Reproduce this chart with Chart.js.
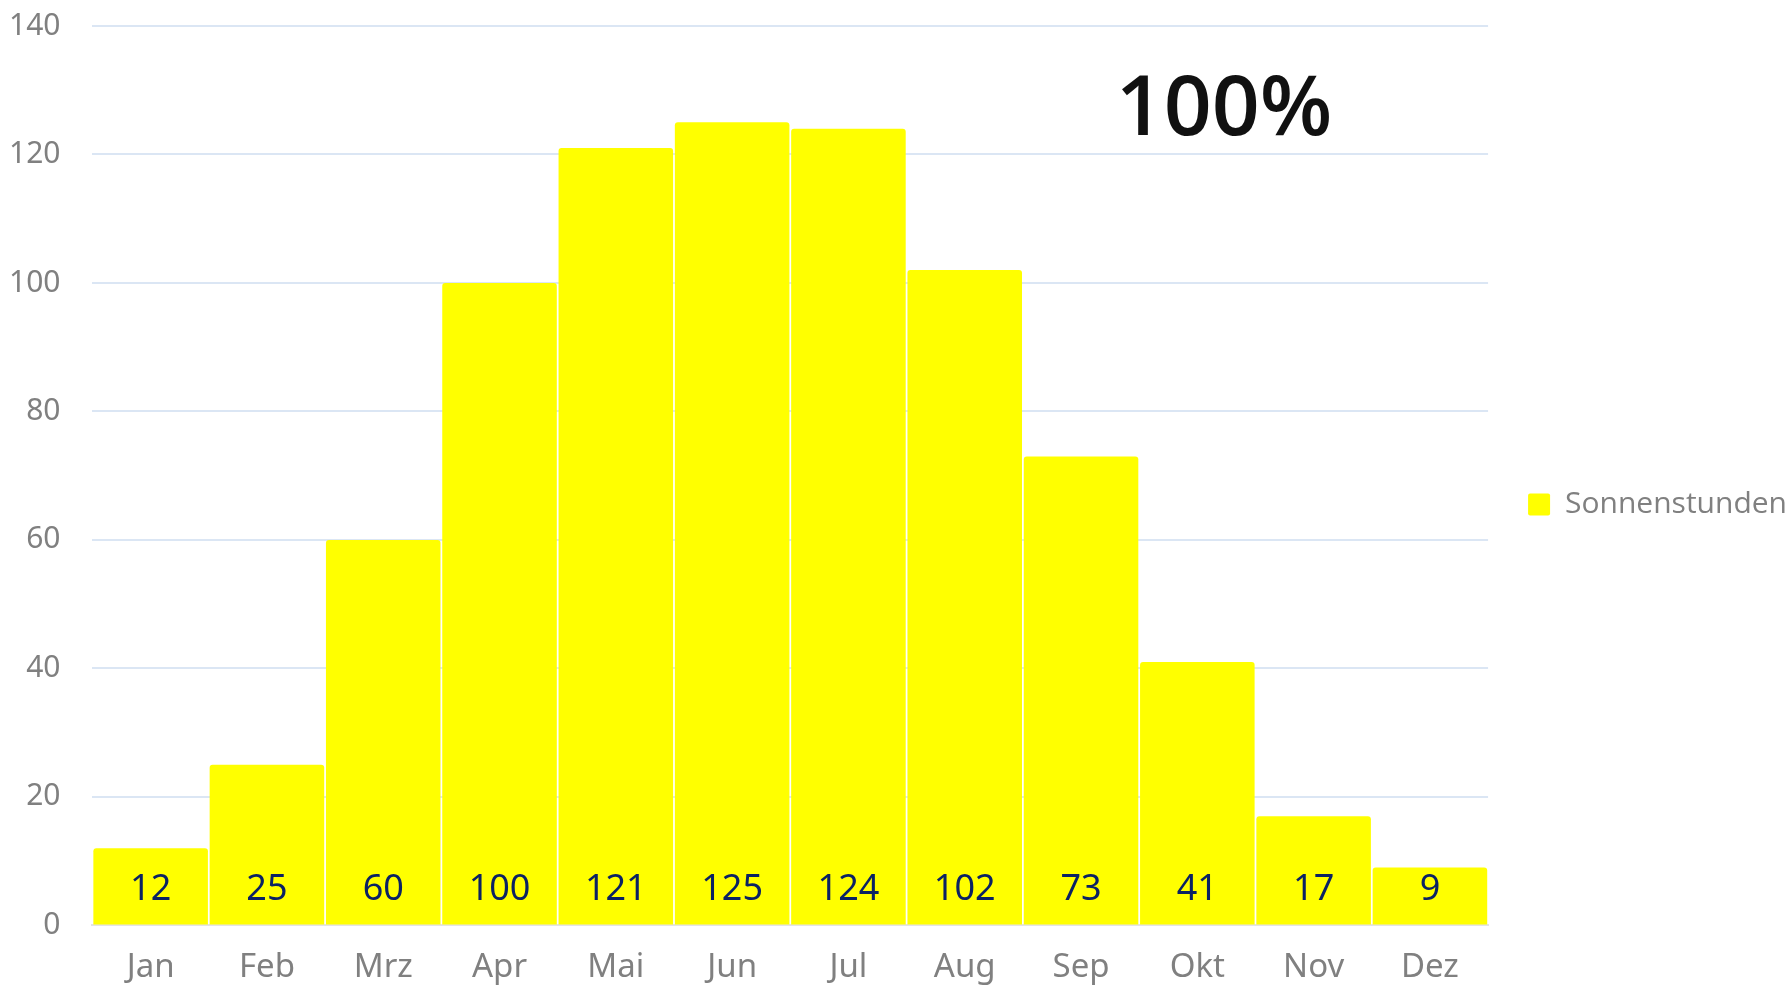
<!DOCTYPE html>
<html lang="de">
<head>
  <meta charset="UTF-8">
  <title>Sonnenstunden</title>
  <script src="https://cdn.jsdelivr.net/npm/chart.js"></script>
  <style>
    html, body { margin: 0; padding: 0; background: #ffffff; }
    #wrap { width: 1787px; height: 985px; }
  </style>
</head>
<body>
  <div id="wrap"><canvas id="sunChart"></canvas></div>
  <script>
    const months = ['Jan', 'Feb', 'Mrz', 'Apr', 'Mai', 'Jun', 'Jul', 'Aug', 'Sep', 'Okt', 'Nov', 'Dez'];
    const sunHours = [12, 25, 60, 100, 121, 125, 124, 102, 73, 41, 17, 9];
    const seriesName = 'Sonnenstunden';
    const yTicks = [0, 20, 40, 60, 80, 100, 120, 140];
    const headline = '100%';

    // Werte unten in den Balken
    const valueLabels = {
      id: 'valueLabels',
      afterDatasetsDraw(chart) {
        const ctx = chart.ctx;
        const meta = chart.getDatasetMeta(0);
        const base = chart.scales.y.getPixelForValue(0);
        ctx.save();
        ctx.font = '36px "Noto Sans"';
        ctx.fillStyle = '#0b2263';
        ctx.textAlign = 'center';
        ctx.textBaseline = 'middle';
        meta.data.forEach((bar, i) => {
          ctx.fillText(String(sunHours[i]), bar.x, base - 36);
        });
        ctx.restore();
      }
    };

    const headlineText = {
      id: 'headlineText',
      afterDraw(chart) {
        const ctx = chart.ctx;
        ctx.save();
        ctx.font = '600 84px "Open Sans"';
        ctx.fillStyle = '#111111';
        ctx.textAlign = 'center';
        ctx.textBaseline = 'alphabetic';
        ctx.fillText(headline, 1224, 135);
        ctx.restore();
      }
    };

    new Chart(document.getElementById('sunChart'), {
      type: 'bar',
      data: {
        labels: months,
        datasets: [{
          label: seriesName,
          data: sunHours,
          backgroundColor: '#ffff00',
          borderRadius: { topLeft: 3, topRight: 3 },
          borderSkipped: 'bottom',
          barPercentage: 0.985,
          categoryPercentage: 1.0
        }]
      },
      options: {
        responsive: true,
        maintainAspectRatio: false,
        animation: false,
        layout: { padding: { left: -23, top: 0, right: -10, bottom: -24 } },
        plugins: {
          tooltip: { enabled: false },
          legend: {
            position: 'right',
            labels: {
              boxWidth: 22,
              boxHeight: 22,
              padding: 40,
              useBorderRadius: true,
              borderRadius: 2,
              color: '#808080',
              font: { family: '"Open Sans"', size: 30 }
            }
          }
        },
        scales: {
          x: {
            z: 1,
            afterFit(scale) {
              scale.paddingLeft = 0;
              scale.paddingRight = 0;
            },
            grid: { display: false, drawTicks: false },
            border: { display: true, color: '#e4e4e4', width: 2 },
            ticks: {
              color: '#808080',
              padding: 22,
              font: { family: '"Noto Sans"', size: 33 }
            }
          },
          y: {
            min: 0,
            max: 140,
            afterBuildTicks(scale) {
              scale.ticks = yTicks.map(v => ({ value: v }));
            },
            afterFit(scale) {
              scale.paddingTop = 26;
              scale.paddingBottom = 0;
            },
            grid: { color: '#dbe6f4', lineWidth: 2, drawTicks: false },
            border: { display: false },
            ticks: {
              color: '#808080',
              padding: 32,
              font: { family: '"Noto Sans"', size: 30 }
            }
          }
        }
      },
      plugins: [valueLabels, headlineText]
    });
  </script>
</body>
</html>
